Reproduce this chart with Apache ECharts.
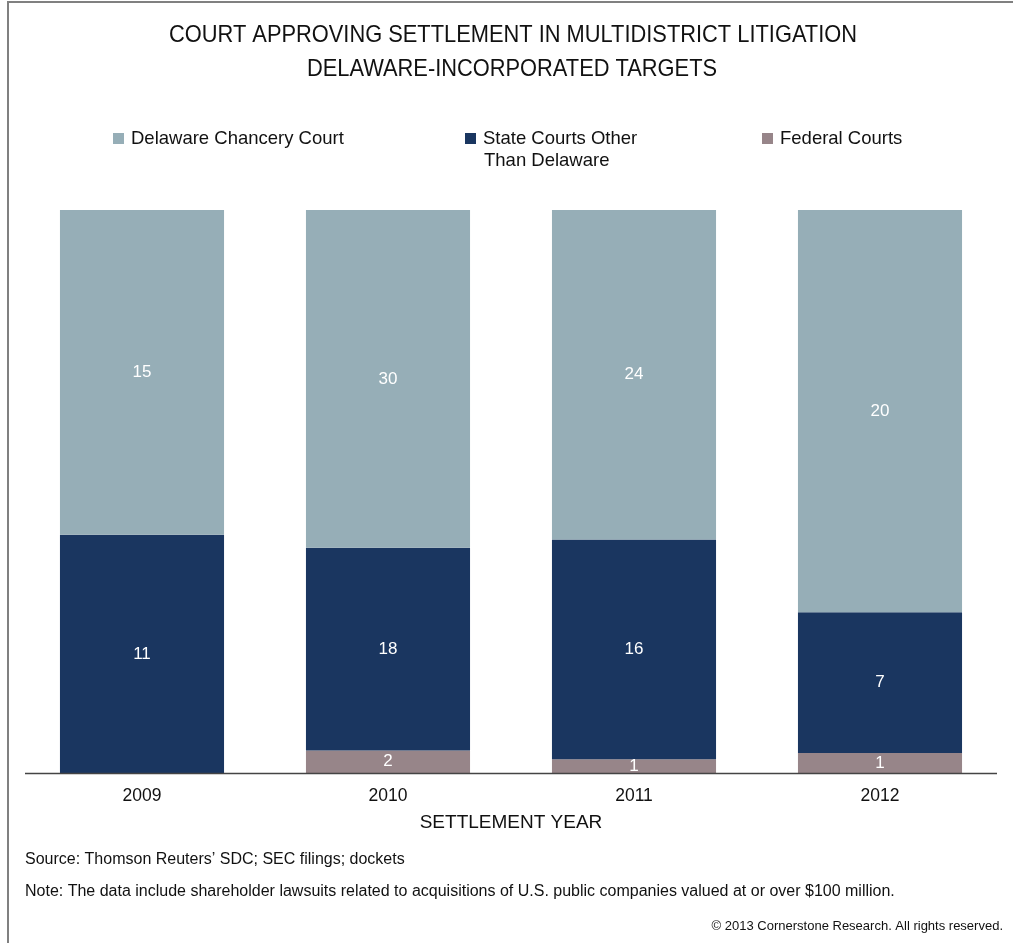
<!DOCTYPE html>
<html>
<head>
<meta charset="utf-8">
<script src="https://cdn.jsdelivr.net/npm/echarts@6/dist/echarts.min.js"></script>
<style>
  html, body { margin: 0; padding: 0; background: #fff; }
  #chart { width: 1013px; height: 943px; }
</style>
</head>
<body>
<div id="chart"></div>
<script>
// Settlement years and case counts by approving court
const years = ['2009', '2010', '2011', '2012'];
const delawareChancery = [15, 30, 24, 20];
const otherStateCourts = [11, 18, 16, 7];
const federalCourts = [0, 2, 1, 1];

const seriesNames = ['Delaware Chancery Court', 'State Courts Other Than Delaware', 'Federal Courts'];
const seriesColors = ['#96aeb7', '#1a3660', '#978589'];
const counts = [delawareChancery, otherStateCourts, federalCourts];

// Each column is drawn as a share of that year's total (100% stacked)
const totals = years.map((_, i) => counts.reduce((s, arr) => s + arr[i], 0));

const sans = '"Liberation Sans", Arial, sans-serif';

const chart = echarts.init(document.getElementById('chart'));

const stackOrder = [2, 1, 0]; // bottom to top: federal, other state, Delaware
const series = stackOrder.map(k => ({
  name: seriesNames[k],
  type: 'bar',
  stack: 'total',
  barWidth: '66.7%',
  itemStyle: { color: seriesColors[k] },
  label: {
    show: true,
    position: 'inside',
    color: '#fff',
    fontFamily: sans,
    fontSize: 17,
    formatter: p => (counts[k][p.dataIndex] > 0 ? String(counts[k][p.dataIndex]) : '')
  },
  emphasis: { disabled: true },
  data: counts[k].map((v, i) => ({ value: v / totals[i] * 100 }))
}));

function legendAt(name, left, text) {
  return {
    data: [name],
    left: left,
    top: 129,
    padding: 0,
    itemWidth: 11,
    itemHeight: 11,
    itemGap: 0,
    icon: 'rect',
    selectedMode: false,
    formatter: () => text || name,
    textStyle: {
      fontFamily: sans,
      fontSize: 18.5,
      color: '#111',
      padding: [0, 0, 0, 2]
    }
  };
}

// Condensed-looking text: regular sans squeezed horizontally
function squeezed(text, x, y, size, sx, align) {
  return {
    type: 'text',
    x: x,
    y: y,
    scaleX: sx,
    style: {
      text: text,
      font: size + 'px ' + sans,
      fill: '#111',
      textAlign: align || 'left',
      textVerticalAlign: 'middle'
    }
  };
}

chart.setOption({
  animation: false,
  backgroundColor: '#fff',
  legend: [
    legendAt(seriesNames[0], 113),
    legendAt(seriesNames[1], 465, 'State Courts Other'),
    legendAt(seriesNames[2], 762)
  ],
  grid: { left: 19, right: 10, top: 210, bottom: 170, containLabel: false },
  xAxis: {
    type: 'category',
    data: years,
    name: 'SETTLEMENT YEAR',
    nameLocation: 'middle',
    nameGap: 40,
    nameTextStyle: { fontFamily: sans, fontSize: 19, color: '#111' },
    axisLine: { show: false },
    axisTick: { show: false },
    axisLabel: { fontFamily: sans, fontSize: 17.5, color: '#111', margin: 14 }
  },
  yAxis: {
    type: 'value',
    min: 0,
    max: 100,
    show: false,
    splitLine: { show: false }
  },
  series: series,
  graphic: [
    // frame
    { type: 'line', shape: { x1: 8, y1: 2, x2: 8, y2: 943 }, style: { stroke: '#808080', lineWidth: 2 } },
    { type: 'line', shape: { x1: 7, y1: 2, x2: 1013, y2: 2 }, style: { stroke: '#808080', lineWidth: 2 } },
    // baseline under the columns
    { type: 'line', z: 10, shape: { x1: 25, y1: 773.5, x2: 997, y2: 773.5 }, style: { stroke: '#444', lineWidth: 1.5 } },
    // two-line title
    squeezed('COURT APPROVING SETTLEMENT IN MULTIDISTRICT LITIGATION', 513, 35, 24, 0.91, 'center'),
    squeezed('DELAWARE-INCORPORATED TARGETS', 512, 69, 24, 0.91, 'center'),
    // second line of the wrapped legend entry
    {
      type: 'text', x: 484, y: 161,
      style: { text: 'Than Delaware', font: '18.5px ' + sans, fill: '#111', textVerticalAlign: 'middle' }
    },
    {
      type: 'text', x: 25, y: 860,
      style: { text: 'Source: Thomson Reuters\u2019 SDC; SEC filings; dockets', font: '16px ' + sans, fill: '#111', textVerticalAlign: 'middle' }
    },
    {
      type: 'text', x: 25, y: 892,
      style: { text: 'Note: The data include shareholder lawsuits related to acquisitions of U.S. public companies valued at or over $100 million.', font: '16px ' + sans, fill: '#111', textVerticalAlign: 'middle' }
    },
    {
      type: 'text', x: 1003, y: 926,
      style: { text: '\u00a9 2013 Cornerstone Research. All rights reserved.', font: '13px ' + sans, fill: '#111', textAlign: 'right', textVerticalAlign: 'middle' }
    }
  ]
});
</script>
</body>
</html>
